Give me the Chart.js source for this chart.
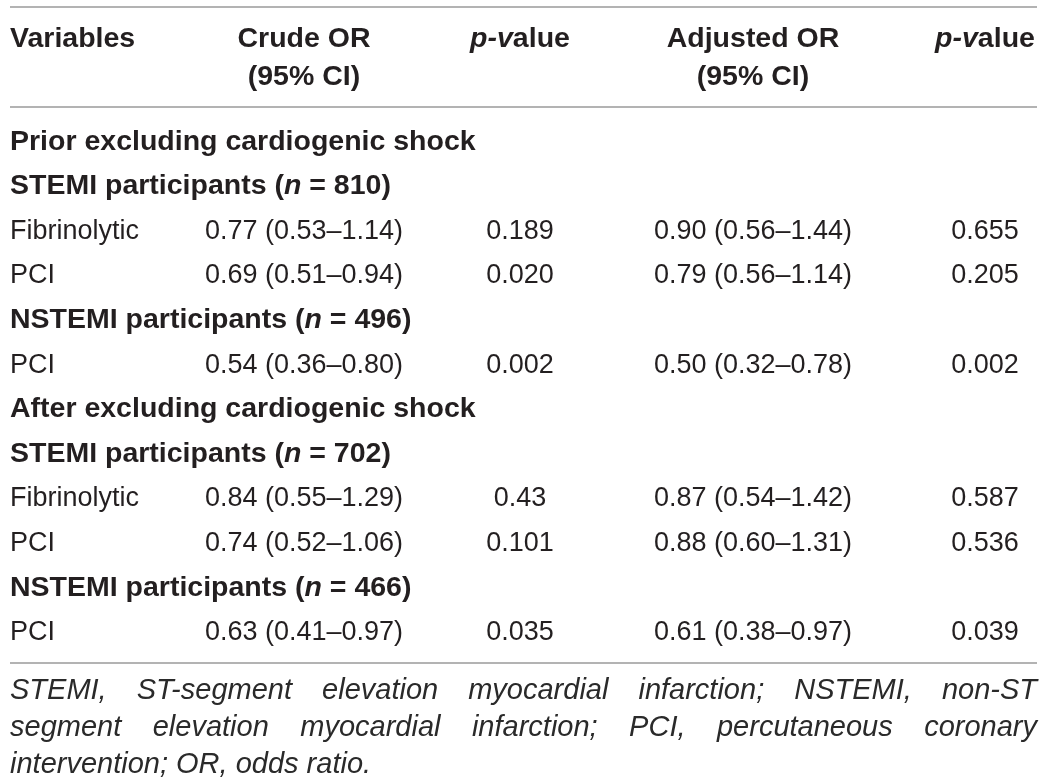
<!DOCTYPE html>
<html>
<head>
<meta charset="utf-8">
<style>
html,body{margin:0;padding:0;background:#ffffff;}
#wrap{width:1046px;height:783px;}
canvas{display:block;}
</style>
<script src="https://cdn.jsdelivr.net/npm/chart.js@4.4.1/dist/chart.umd.min.js"></script>
</head>
<body>
<div id="wrap"><canvas id="c" width="1046" height="783"></canvas></div>
<script>
// ---------------- DATA ----------------
const headerLine1 = ['Variables', 'Crude OR', 'p-value', 'Adjusted OR', 'p-value'];
const headerLine2 = ['', '(95% CI)', '', '(95% CI)', ''];

const rowLabels = [
  'Prior excluding cardiogenic shock',
  'STEMI participants (n = 810)',
  'Fibrinolytic',
  'PCI',
  'NSTEMI participants (n = 496)',
  'PCI',
  'After excluding cardiogenic shock',
  'STEMI participants (n = 702)',
  'Fibrinolytic',
  'PCI',
  'NSTEMI participants (n = 466)',
  'PCI'
];
const rowKinds = ['section','group','item','item','group','item','section','group','item','item','group','item'];

const crudeOR = ['', '', '0.77 (0.53–1.14)', '0.69 (0.51–0.94)', '', '0.54 (0.36–0.80)',
                 '', '', '0.84 (0.55–1.29)', '0.74 (0.52–1.06)', '', '0.63 (0.41–0.97)'];
const crudeP  = ['', '', '0.189', '0.020', '', '0.002',
                 '', '', '0.43', '0.101', '', '0.035'];
const adjOR   = ['', '', '0.90 (0.56–1.44)', '0.79 (0.56–1.14)', '', '0.50 (0.32–0.78)',
                 '', '', '0.87 (0.54–1.42)', '0.88 (0.60–1.31)', '', '0.61 (0.38–0.97)'];
const adjP    = ['', '', '0.655', '0.205', '', '0.002',
                 '', '', '0.587', '0.536', '', '0.039'];

const footnoteLines = [
  'STEMI, ST-segment elevation myocardial infarction; NSTEMI, non-ST',
  'segment elevation myocardial infarction; PCI, percutaneous coronary',
  'intervention; OR, odds ratio.'
];
const footnoteJustified = [true, true, false];

// ---------------- LAYOUT ----------------
const W = 1046, H = 783;
const ROW0 = 149.5, PITCH = 44.6;          // baseline of first body row, row pitch (px)
const Y_MIN = -ROW0 / PITCH, Y_MAX = Y_MIN + H / PITCH;
const COL_X = [10, 304, 520, 753, 985];
const COL_ALIGN = ['left', 'center', 'center', 'center', 'center'];
const LEFT = 10, RIGHT = 1037;
const px2row = p => (p - ROW0) / PITCH;
const HEADER_ROWS = [px2row(47), px2row(85)];
const RULE_ROWS = [px2row(7), px2row(107), px2row(663)];
const FOOT_ROWS = [px2row(698.5), px2row(735.5), px2row(772.5)];

const FAMILY = '"Liberation Sans", Arial, Helvetica, sans-serif';
const TEXT_COLOR = '#231f20';
const BOLD_PX = 28.5, BODY_PX = 27, FOOT_PX = 29;

function fontStr(bold, italic, size) {
  return (italic ? 'italic ' : '') + (bold ? 'bold ' : '') + size + 'px ' + FAMILY;
}

// split text into styled segments (italic n in "(n = ...)", italic "p-v" in "p-value")
function segments(text, bold) {
  let m = text.match(/^(.*\()(n)( = .*)$/);
  if (m) return [{t:m[1], b:bold, i:false}, {t:m[2], b:bold, i:true}, {t:m[3], b:bold, i:false}];
  if (text === 'p-value') return [{t:'p-v', b:bold, i:true}, {t:'alue', b:bold, i:false}];
  return [{t:text, b:bold, i:false}];
}

function drawRich(ctx, segs, x, y, align, size) {
  let total = 0;
  segs.forEach(s => { ctx.font = fontStr(s.b, s.i, size); s.w = ctx.measureText(s.t).width; total += s.w; });
  let cx = align === 'center' ? x - total / 2 : (align === 'right' ? x - total : x);
  ctx.textAlign = 'left';
  segs.forEach(s => { ctx.font = fontStr(s.b, s.i, size); ctx.fillText(s.t, cx, y); cx += s.w; });
}

// ---------------- DATASETS ----------------
const columnValues = [rowLabels, crudeOR, crudeP, adjOR, adjP];
const datasets = columnValues.map((vals, c) => ({
  label: headerLine1[c],
  data: vals.map((t, i) => ({x: COL_X[c], y: i, t: t})).filter(d => d.t !== ''),
  pointRadius: 0,
  pointHoverRadius: 0,
  pointHitRadius: 0,
  showLine: false
}));

const tablePlugin = {
  id: 'tableText',
  afterDatasetsDraw(chart) {
    const ctx = chart.ctx;
    const xs = chart.scales.x, ys = chart.scales.y;
    ctx.save();
    ctx.fillStyle = TEXT_COLOR;
    ctx.textBaseline = 'alphabetic';

    // rules
    ctx.strokeStyle = '#9a9a9a';
    ctx.lineWidth = 1.6;
    RULE_ROWS.forEach(r => {
      const y = ys.getPixelForValue(r);
      ctx.beginPath();
      ctx.moveTo(xs.getPixelForValue(LEFT), y);
      ctx.lineTo(xs.getPixelForValue(RIGHT), y);
      ctx.stroke();
    });

    // header
    [headerLine1, headerLine2].forEach((line, li) => {
      const y = ys.getPixelForValue(HEADER_ROWS[li]);
      line.forEach((t, c) => {
        if (!t) return;
        drawRich(ctx, segments(t, true), xs.getPixelForValue(COL_X[c]), y, COL_ALIGN[c], BOLD_PX);
      });
    });

    // body cells from dataset elements
    chart.data.datasets.forEach((ds, c) => {
      const meta = chart.getDatasetMeta(c);
      meta.data.forEach((el, j) => {
        const raw = ds.data[j];
        const kind = rowKinds[raw.y];
        const bold = c === 0 && kind !== 'item';
        drawRich(ctx, segments(raw.t, bold), el.x, el.y, COL_ALIGN[c], bold ? BOLD_PX : BODY_PX);
      });
    });

    // footnote (justified)
    ctx.fillStyle = '#2a2a2a';
    ctx.font = fontStr(false, true, FOOT_PX);
    ctx.textAlign = 'left';
    footnoteLines.forEach((line, li) => {
      const y = ys.getPixelForValue(FOOT_ROWS[li]);
      const x0 = xs.getPixelForValue(LEFT), x1 = xs.getPixelForValue(RIGHT);
      if (footnoteJustified[li]) {
        const words = line.split(' ');
        const widths = words.map(w => ctx.measureText(w).width);
        const sum = widths.reduce((a, b) => a + b, 0);
        const gap = (x1 - x0 - sum) / (words.length - 1);
        let cx = x0;
        words.forEach((w, k) => { ctx.fillText(w, cx, y); cx += widths[k] + gap; });
      } else {
        ctx.fillText(line, x0, y);
      }
    });
    ctx.restore();
  }
};

new Chart(document.getElementById('c'), {
  type: 'scatter',
  data: { datasets: datasets },
  options: {
    responsive: false,
    animation: false,
    events: [],
    layout: { padding: 0, autoPadding: false },
    scales: {
      x: { type: 'linear', display: false, min: 0, max: W },
      y: { type: 'linear', display: false, reverse: true, min: Y_MIN, max: Y_MAX }
    },
    plugins: { legend: { display: false }, tooltip: { enabled: false }, title: { display: false } }
  },
  plugins: [tablePlugin]
});
</script>
</body>
</html>
